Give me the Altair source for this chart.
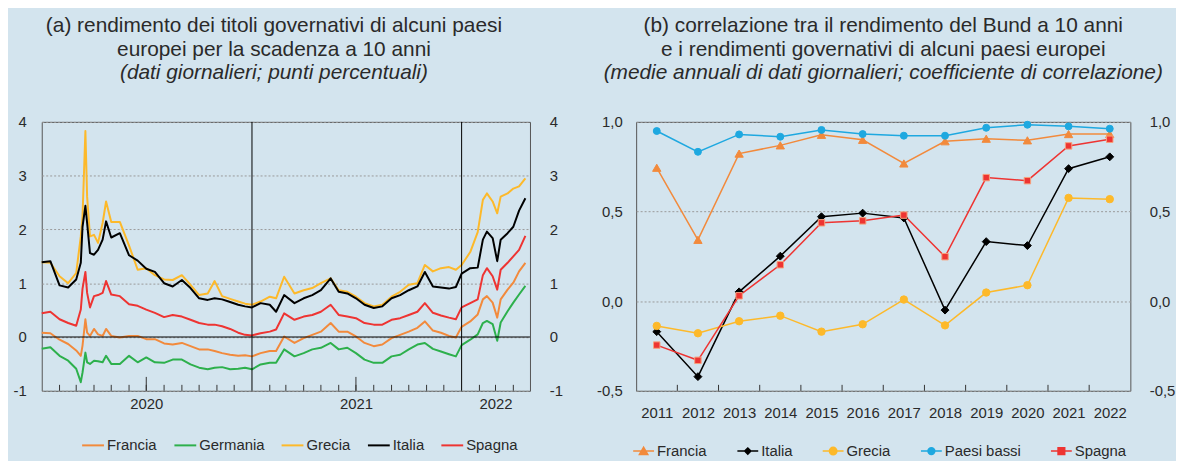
import altair as alt
import pandas as pd

# ---------------- Panel (a): rendimenti giornalieri (punti percentuali) ----------------
date = [
    "2020-01-01", "2020-01-16", "2020-02-01", "2020-02-16", "2020-03-01", "2020-03-09",
    "2020-03-12", "2020-03-17", "2020-03-20", "2020-03-25", "2020-04-01", "2020-04-08",
    "2020-04-16", "2020-04-22", "2020-05-01", "2020-05-16", "2020-06-01", "2020-06-16",
    "2020-07-01", "2020-07-16", "2020-08-01", "2020-08-16", "2020-09-01", "2020-09-16",
    "2020-10-01", "2020-10-16", "2020-10-28", "2020-11-10", "2020-11-24", "2020-12-08",
    "2020-12-20", "2021-01-01", "2021-01-16", "2021-02-01", "2021-02-12", "2021-02-26",
    "2021-03-16", "2021-04-01", "2021-04-16", "2021-05-01", "2021-05-18", "2021-06-01",
    "2021-06-16", "2021-07-01", "2021-07-16", "2021-08-01", "2021-08-16", "2021-09-01",
    "2021-09-16", "2021-10-01", "2021-10-16", "2021-10-29", "2021-11-12", "2021-11-26",
    "2021-12-10", "2021-12-22", "2022-01-01", "2022-01-16", "2022-01-29", "2022-02-07",
    "2022-02-14", "2022-02-24", "2022-03-04", "2022-03-10", "2022-03-22", "2022-04-01",
    "2022-04-11", "2022-04-22",
]
francia = [
    0.08, 0.07, -0.05, -0.13, -0.25, -0.35, -0.16, 0.33, 0.08, 0.02,
    0.15, 0.05, 0.02, 0.15, 0.02, -0.01, 0.02, 0.02, -0.04, -0.04,
    -0.12, -0.14, -0.11, -0.17, -0.23, -0.23, -0.26, -0.30, -0.33, -0.35, -0.34,
    -0.36, -0.30, -0.26, -0.26, 0.01, -0.11, -0.02, 0.04, 0.10, 0.26,
    0.10, 0.10, 0.01, -0.11, -0.17, -0.14, -0.02, 0.04, 0.10, 0.17,
    0.29, 0.12, 0.08, 0.02, -0.01,
    0.19, 0.29, 0.42, 0.70, 0.76, 0.64, 0.36, 0.70, 0.88, 1.01, 1.22, 1.38,
]
germania = [
    -0.22, -0.19, -0.35, -0.44, -0.59, -0.84, -0.66, -0.29, -0.47, -0.50,
    -0.44, -0.45, -0.47, -0.35, -0.50, -0.50, -0.35, -0.47, -0.38, -0.47,
    -0.48, -0.42, -0.42, -0.51, -0.57, -0.60, -0.57, -0.56, -0.60, -0.59, -0.57,
    -0.60, -0.51, -0.48, -0.48, -0.23, -0.36, -0.30, -0.23, -0.20, -0.11,
    -0.23, -0.20, -0.30, -0.42, -0.48, -0.48, -0.36, -0.33, -0.23, -0.14,
    -0.11, -0.22, -0.27, -0.32, -0.36,
    -0.15, -0.05, 0.05, 0.26, 0.30, 0.24, -0.07, 0.27, 0.48, 0.64, 0.79, 0.95,
]
grecia = [
    1.39, 1.38, 1.13, 1.00, 1.19, 1.87, 2.24, 3.83, 2.61, 1.87,
    1.90, 1.75, 2.12, 2.52, 2.14, 2.14, 1.70, 1.25, 1.28, 1.15,
    1.07, 1.06, 1.15, 0.97, 0.78, 0.81, 1.04, 0.76, 0.71, 0.66, 0.62,
    0.60, 0.66, 0.75, 0.72, 1.12, 0.81, 0.87, 0.91, 1.00, 1.09,
    0.87, 0.84, 0.75, 0.63, 0.57, 0.60, 0.75, 0.84, 0.97, 1.00,
    1.34, 1.22, 1.28, 1.30, 1.25,
    1.34, 1.58, 1.95, 2.55, 2.67, 2.52, 2.30, 2.61, 2.67, 2.76, 2.80, 2.95,
]
italia = [
    1.39, 1.41, 0.96, 0.92, 1.07, 1.38, 2.05, 2.44, 2.12, 1.56,
    1.53, 1.62, 1.81, 2.15, 1.85, 1.93, 1.52, 1.42, 1.27, 1.21,
    1.00, 0.94, 1.06, 0.91, 0.72, 0.69, 0.72, 0.70, 0.65, 0.60, 0.57,
    0.55, 0.63, 0.60, 0.47, 0.78, 0.63, 0.72, 0.78, 0.87, 1.09,
    0.84, 0.81, 0.72, 0.60, 0.54, 0.57, 0.72, 0.78, 0.87, 0.94,
    1.21, 0.94, 0.92, 0.90, 0.93,
    1.18, 1.28, 1.29, 1.81, 1.96, 1.84, 1.41, 1.81, 1.93, 2.05, 2.35, 2.58,
]
spagna = [
    0.44, 0.47, 0.33, 0.26, 0.21, 0.51, 0.90, 1.21, 0.82, 0.55,
    0.76, 0.78, 0.82, 1.04, 0.79, 0.76, 0.61, 0.58, 0.51, 0.45,
    0.37, 0.41, 0.38, 0.32, 0.26, 0.23, 0.23, 0.20, 0.15, 0.08, 0.04,
    0.03, 0.07, 0.10, 0.14, 0.44, 0.32, 0.38, 0.41, 0.47, 0.60,
    0.41, 0.38, 0.35, 0.26, 0.23, 0.23, 0.32, 0.35, 0.41, 0.47,
    0.63, 0.45, 0.40, 0.36, 0.33,
    0.55, 0.63, 0.70, 1.15, 1.28, 1.13, 0.88, 1.25, 1.38, 1.50, 1.62, 1.88,
]
paesi_a = ["Francia", "Germania", "Grecia", "Italia", "Spagna"]
colori_a = ["#F28A3C", "#2DB04C", "#FDB92A", "#000000", "#EE3432"]
spessori_a = [2, 2, 2, 2.6, 2]
etichette_anni_a = [(2020, 7, 1), (2021, 7, 1), (2022, 3, 1)]
inizio_anni_a = ["2021-01-01", "2022-01-01"]
meta_anno_a = ["2020-07-01", "2021-07-01"]

# ---------------- Panel (b): correlazioni annuali ----------------
anni = list(range(2011, 2023))
corr_francia = [0.744, 0.342, 0.823, 0.869, 0.928, 0.900, 0.768, 0.892, 0.906, 0.897, 0.932, 0.932]
corr_italia = [-0.170, -0.421, 0.052, 0.251, 0.471, 0.491, 0.464, -0.050, 0.332, 0.310, 0.739, 0.805]
corr_grecia = [-0.138, -0.179, -0.112, -0.081, -0.170, -0.129, 0.009, -0.135, 0.048, 0.089, 0.576, 0.569]
corr_paesi_bassi = [0.949, 0.833, 0.930, 0.917, 0.955, 0.932, 0.923, 0.923, 0.967, 0.984, 0.975, 0.962]
corr_spagna = [-0.245, -0.330, 0.030, 0.203, 0.437, 0.448, 0.480, 0.248, 0.689, 0.672, 0.866, 0.903]
paesi_b = ["Francia", "Italia", "Grecia", "Paesi bassi", "Spagna"]
colori_b = ["#F28A3C", "#000000", "#FDB92A", "#1EA8E0", "#EE3432"]
bordi_b = ["#F28A3C", "#000000", "#FDB92A", "#1EA8E0", "#F6A07C"]
forme_b = ["triangle-up", "diamond", "circle", "circle", "square"]
dimensioni_b = [70, 42, 64, 46, 52]
simboli_legenda_b = [
    "M-1,0H1M-0.4,0.32L0,-0.36L0.4,0.32Z",
    "M-1,0H1M0,-0.3L0.3,0L0,0.3L-0.3,0Z",
    "M-1,0H1M-0.36,0A0.36,0.36,0,1,0,0.36,0A0.36,0.36,0,1,0,-0.36,0Z",
    "M-1,0H1M-0.33,0A0.33,0.33,0,1,0,0.33,0A0.33,0.33,0,1,0,-0.33,0Z",
    "M-1,0H1M-0.32,-0.32H0.32V0.32H-0.32Z",
]

# ---------------- data frames ----------------
serie_a = [francia, germania, grecia, italia, spagna]
df_a = pd.DataFrame({
    "data": [d + "T00:00:00" for _ in paesi_a for d in date],
    "paese_a": [p for p in paesi_a for _ in date],
    "valore": [v for s in serie_a for v in s],
})
serie_b = [corr_francia, corr_italia, corr_grecia, corr_paesi_bassi, corr_spagna]
df_b = pd.DataFrame({
    "anno": [a for _ in paesi_b for a in anni],
    "paese_b": [p for p in paesi_b for _ in anni],
    "corr": [v for s in serie_b for v in s],
})
mesi = [d.strftime("%Y-%m-%dT00:00:00") for d in pd.date_range("2020-02-01", "2022-04-01", freq="MS") if d.month != 1]

# ---------------- style ----------------
W_A, W_B, H = 492, 498, 271
FONT = "Liberation Sans"
TXT = "#2a2a2a"
BG = "#D3E4EE"
GRID = "#9a9a9a"

axis_common = dict(title=None, ticks=False, tickSize=0, domain=False,
                   labelFont=FONT, labelFontSize=15, labelColor=TXT)

lab_a = "datum.value < 0 ? '-' + format(-datum.value, 'd') : format(datum.value, 'd')"
lab_b = "(datum.value < 0 ? '-' : '') + replace(format(abs(datum.value), '.1f'), '.', ',')"

xa_scale = alt.Scale(domain=[alt.DateTime(year=2020, month=1, date=1),
                             alt.DateTime(year=2022, month=4, date=30)], nice=False)
ya_scale = alt.Scale(domain=[-1, 4], nice=False, zero=False)
xa_axis = alt.Axis(values=[alt.DateTime(year=y, month=m, date=g) for y, m, g in etichette_anni_a],
                   format="%Y", grid=False, labelPadding=6, **axis_common)

# ---------------- panel (a) ----------------
zero_a = alt.Chart(pd.DataFrame({"v": [0]})).mark_rule(color="black", strokeWidth=1).encode(
    y=alt.Y("v:Q", scale=ya_scale,
            axis=alt.Axis(orient="right", values=[-1, 0, 1, 2, 3, 4], labelExpr=lab_a,
                          grid=False, labelPadding=19.5, **axis_common)))

lines_a = alt.Chart(df_a).mark_line(strokeJoin="round").encode(
    x=alt.X("data:T", scale=xa_scale, axis=xa_axis),
    y=alt.Y("valore:Q", scale=ya_scale,
            axis=alt.Axis(orient="left", values=[-1, 0, 1, 2, 3, 4], labelExpr=lab_a,
                          grid=True, gridColor=GRID, gridDash=[2, 2], gridWidth=1,
                          labelPadding=15.5, **axis_common)),
    color=alt.Color("paese_a:N", scale=alt.Scale(domain=paesi_a, range=colori_a),
                    legend=alt.Legend(title=None, orient="none", legendX=39.7, legendY=314,
                                      direction="horizontal", symbolType="stroke",
                                      symbolSize=484, symbolStrokeWidth=2, labelFont=FONT,
                                      labelFontSize=15, labelColor=TXT, labelOffset=2,
                                      columnPadding=13, padding=0)),
    strokeWidth=alt.StrokeWidth("paese_a:N", scale=alt.Scale(domain=paesi_a, range=spessori_a), legend=None),
)

anni_a = alt.Chart(pd.DataFrame({"data": [d + "T00:00:00" for d in inizio_anni_a]})).mark_rule(
    color="black", strokeWidth=1).encode(x=alt.X("data:T", scale=xa_scale, axis=xa_axis))

tick_a = alt.Chart(pd.DataFrame({"data": mesi})).mark_rule(color="#333333", strokeWidth=1).encode(
    x=alt.X("data:T", scale=xa_scale, axis=xa_axis), y=alt.value(H), y2=alt.value(H - 6))
tick_lunghi_a = alt.Chart(pd.DataFrame({"data": [d + "T00:00:00" for d in meta_anno_a]})).mark_rule(
    color="#333333", strokeWidth=1).encode(
    x=alt.X("data:T", scale=xa_scale, axis=xa_axis), y=alt.value(H), y2=alt.value(H - 14))

title_a = alt.TitleParams(
    text=["(a) rendimento dei titoli governativi di alcuni paesi", "europei per la scadenza a 10 anni"],
    subtitle=["(dati giornalieri; punti percentuali)"],
    font=FONT, subtitleFont=FONT, fontSize=21, subtitleFontSize=21, fontWeight="normal",
    subtitleFontStyle="italic", color=TXT, subtitleColor=TXT, lineHeight=25, subtitleLineHeight=25,
    subtitlePadding=2, anchor="middle", frame="group", offset=32, dx=-12)

panel_a = alt.layer(lines_a, zero_a, anni_a, tick_a, tick_lunghi_a).resolve_axis(
    y="independent").properties(width=W_A, height=H, title=title_a)

# ---------------- panel (b) ----------------
xb_scale = alt.Scale(domain=[2010.5, 2022.5], nice=False, zero=False)
yb_scale = alt.Scale(domain=[-0.5, 1.0], nice=False, zero=False)
xb_axis = alt.Axis(values=anni, format="d", grid=False, labelPadding=15, **axis_common)

lines_b = alt.Chart(df_b).mark_line(strokeWidth=1.5).encode(
    x=alt.X("anno:Q", scale=xb_scale, axis=xb_axis),
    y=alt.Y("corr:Q", scale=yb_scale,
            axis=alt.Axis(orient="left", values=[-0.5, 0, 0.5, 1.0], labelExpr=lab_b,
                          grid=True, gridColor=GRID, gridDash=[2, 2], gridWidth=1,
                          labelPadding=14, **axis_common)),
    color=alt.Color("paese_b:N", scale=alt.Scale(domain=paesi_b, range=colori_b), legend=None),
)

tick_b = alt.Chart(pd.DataFrame({"anno": anni[:-1]})).transform_calculate(
    confine="datum.anno + 0.5").mark_rule(color="#333333", strokeWidth=1).encode(
    x=alt.X("confine:Q", scale=xb_scale, axis=xb_axis), y=alt.value(H), y2=alt.value(H - 6))

points_b = alt.Chart(df_b).mark_point(filled=True, opacity=1, strokeWidth=1).encode(
    x=alt.X("anno:Q", scale=xb_scale, axis=xb_axis),
    y=alt.Y("corr:Q", scale=yb_scale, axis=None),
    color=alt.Color("paese_b:N", scale=alt.Scale(domain=paesi_b, range=colori_b), legend=None),
    shape=alt.Shape("paese_b:N", scale=alt.Scale(domain=paesi_b, range=forme_b), legend=None),
    size=alt.Size("paese_b:N", scale=alt.Scale(domain=paesi_b, range=dimensioni_b), legend=None),
    stroke=alt.Stroke("paese_b:N", scale=alt.Scale(domain=paesi_b, range=bordi_b), legend=None),
)

def leg_b():
    return alt.Legend(title=None, orient="none", legendX=-4, legendY=320, direction="horizontal",
                      symbolSize=441, symbolStrokeWidth=1.5, symbolOpacity=1, labelFont=FONT,
                      labelFontSize=15, labelColor=TXT, labelOffset=2, columnPadding=27, padding=0)

legend_b = alt.Chart(df_b).mark_point(filled=True, opacity=0, size=441).encode(
    x=alt.X("anno:Q", scale=xb_scale, axis=xb_axis),
    y=alt.Y("corr:Q", scale=yb_scale,
            axis=alt.Axis(orient="right", values=[-0.5, 0, 0.5, 1.0], labelExpr=lab_b,
                          grid=False, labelPadding=19, **axis_common)),
    fill=alt.Fill("paese_b:N", scale=alt.Scale(domain=paesi_b, range=colori_b), legend=leg_b()),
    stroke=alt.Stroke("paese_b:N", scale=alt.Scale(domain=paesi_b, range=colori_b), legend=leg_b()),
    shape=alt.Shape("paese_b:N", scale=alt.Scale(domain=paesi_b, range=simboli_legenda_b), legend=leg_b()),
)

title_b = alt.TitleParams(
    text=["(b) correlazione tra il rendimento del Bund a 10 anni",
          "e i rendimenti governativi di alcuni paesi europei"],
    subtitle=["(medie annuali di dati giornalieri; coefficiente di correlazione)"],
    font=FONT, subtitleFont=FONT, fontSize=21, subtitleFontSize=21, fontWeight="normal",
    subtitleFontStyle="italic", color=TXT, subtitleColor=TXT, lineHeight=25, subtitleLineHeight=25,
    subtitlePadding=2, anchor="middle", frame="group", offset=32)

panel_b = alt.layer(lines_b, tick_b, points_b, legend_b).resolve_scale(
    shape="independent", stroke="independent", fill="independent").resolve_axis(
    y="independent").properties(width=W_B, height=H, title=title_b)

chart = alt.hconcat(panel_a, panel_b, spacing=107, bounds="flush").resolve_scale(
    color="independent", strokeWidth="independent", shape="independent",
    stroke="independent", fill="independent", size="independent",
    x="independent", y="independent").properties(
    background=BG, padding={"left": 4, "top": 4, "right": 0, "bottom": 0}
).configure_view(stroke="#555555", strokeWidth=1)

chart.save("out.html", embed_options={"renderer": "svg", "actions": False})
